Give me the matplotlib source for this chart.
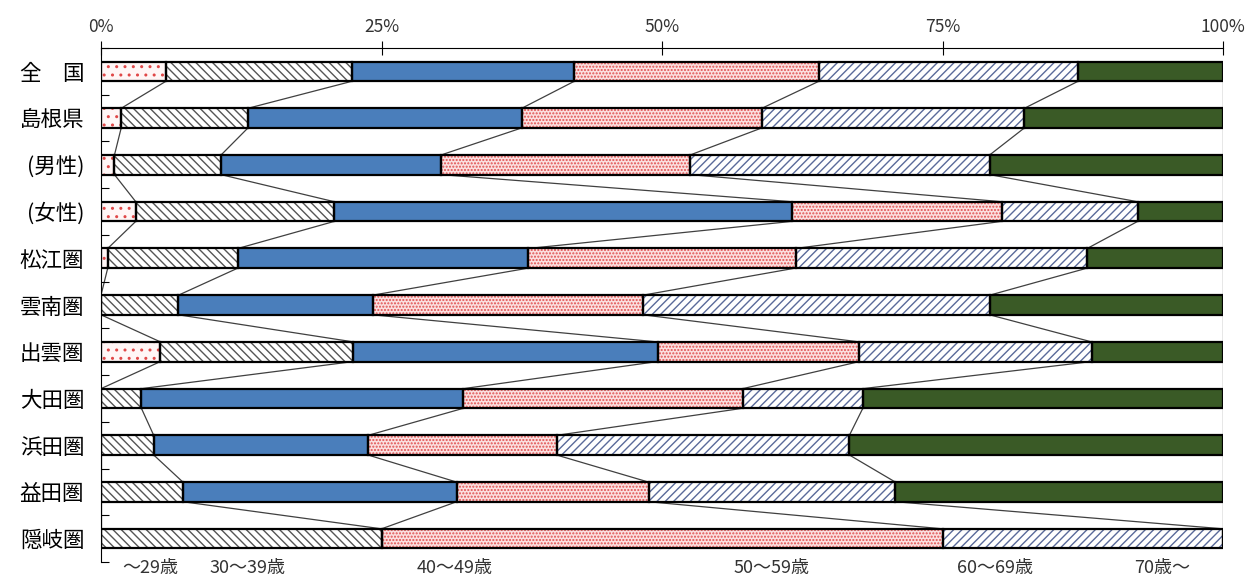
import numpy as np
import matplotlib
matplotlib.use("Agg")
import matplotlib.pyplot as plt

plt.rcParams['font.family'] = ['Noto Sans CJK JP', 'DejaVu Sans']
plt.rcParams['hatch.linewidth'] = 1.0

# areas (top to bottom)
areas = ["全　国", "島根県", "(男性)", "(女性)", "松江圏", "雲南圏",
         "出雲圏", "大田圏", "浜田圏", "益田圏", "隠岐圏"]

# age groups
ages = ["～29歳", "30～39歳", "40～49歳", "50～59歳", "60～69歳", "70歳～"]

# share (%) per age group, one list per age group, in area order
age_29 = [5.8, 1.8, 1.2, 3.1, 0.6, 0.0, 5.3, 0.0, 0.0, 0.0, 0.0]
age_30s = [16.6, 11.3, 9.5, 17.7, 11.6, 6.9, 17.2, 3.6, 4.7, 7.3, 25.0]
age_40s = [19.8, 24.4, 19.6, 40.8, 25.9, 17.3, 27.1, 28.7, 19.1, 24.4, 0.0]
age_50s = [21.8, 21.4, 22.2, 18.7, 23.8, 24.1, 18.0, 24.9, 16.8, 17.1, 50.0]
age_60s = [23.1, 23.4, 26.7, 12.1, 26.0, 30.9, 20.7, 10.7, 26.1, 22.0, 25.0]
age_70 = [12.9, 17.7, 20.8, 7.6, 12.1, 20.8, 11.7, 32.1, 33.3, 29.2, 0.0]

series = [age_29, age_30s, age_40s, age_50s, age_60s, age_70]

# style for each age group: (face, hatch, hatch colour)
styles = [
    ("#FFF6F6", "..", "#E04848"),
    ("white", "\\\\\\\\", "#555555"),
    ("#4A7EBB", None, None),
    ("#FBE0E0", ".....", "#E05050"),
    ("white", "////", "#5A6A9A"),
    ("#3A5A26", None, None),
]

fig = plt.figure(figsize=(12.57, 5.79), dpi=100)
ax = fig.add_axes([101 / 1257, 1 - 562 / 579, 1122 / 1257, (562 - 48) / 579])

y = np.arange(len(areas))
h = 0.42
vals = np.array(series, dtype=float)
total = vals.sum(axis=0)
vals = vals / total * 100
cum = np.cumsum(vals, axis=0)
left = np.vstack([np.zeros(len(areas)), cum[:-1]])

for k, (face, hatch, hcol) in enumerate(styles):
    if hatch:
        ax.barh(y, vals[k], left=left[k], height=h, color=face,
                hatch=hatch, edgecolor=hcol, linewidth=0, zorder=2)
    else:
        ax.barh(y, vals[k], left=left[k], height=h, color=face,
                linewidth=0, zorder=2)
    ax.barh(y, vals[k], left=left[k], height=h, fill=False,
            edgecolor="black", linewidth=1.6, zorder=3)

# series lines between neighbouring bars
for k in range(len(series)):
    for i in range(len(areas) - 1):
        ax.plot([cum[k][i], cum[k][i + 1]], [i + h / 2, i + 1 - h / 2],
                color="#404040", linewidth=0.9, zorder=1)

ax.set_xlim(0, 100)
ax.set_ylim(len(areas) - 0.5, -0.5)

ax.xaxis.tick_top()
ax.set_xticks([0, 25, 50, 75, 100])
ax.set_xticklabels(["0%", "25%", "50%", "75%", "100%"], fontsize=12.5,
                   color="#333333")
ax.tick_params(axis="x", direction="inout", length=10, width=0.8, pad=4)

ax.set_yticks(y)
ax.set_yticklabels(areas, fontsize=15.5)
ax.set_yticks(np.arange(-0.5, len(areas), 1.0), minor=True)
ax.tick_params(axis="y", which="major", length=0, pad=12)
ax.tick_params(axis="y", which="minor", direction="in", length=6, width=0.8)

for s in ["bottom", "right"]:
    ax.spines[s].set_visible(False)
ax.spines["top"].set_linewidth(0.8)
ax.spines["left"].set_linewidth(0.8)

# legend labels under the chart
label_x = [150, 248, 455, 772, 995, 1162]
for lab, px in zip(ages, label_x):
    fig.text(px / 1257, 1 - 568 / 579, lab, ha="center", va="center",
             fontsize=13, color="#333333")

fig.savefig("out.png", dpi=100)
